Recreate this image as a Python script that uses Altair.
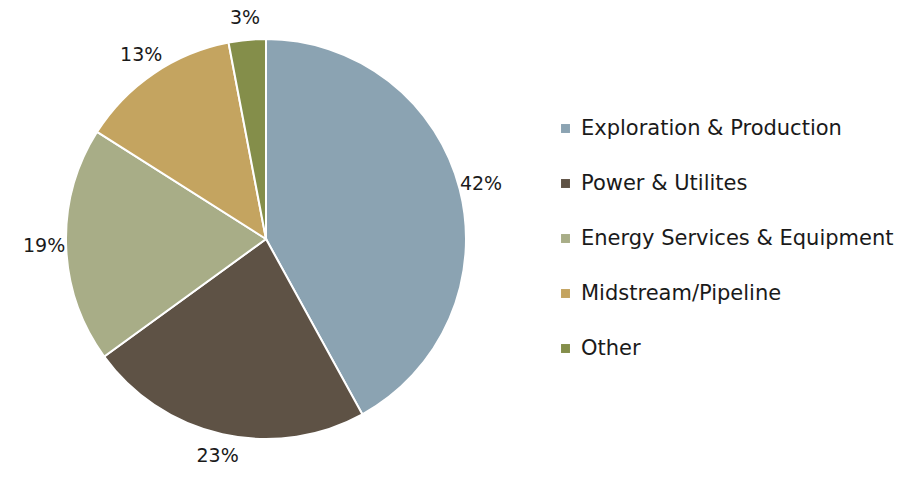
import altair as alt
import pandas as pd

categories = ["Exploration & Production", "Power & Utilites", "Energy Services & Equipment",
              "Midstream/Pipeline", "Other"]
shares = [42, 23, 19, 13, 3]
colors = ["#8BA3B2", "#5E5245", "#A8AD87", "#C4A460", "#848E4A"]

df = pd.DataFrame({"category": categories, "share": shares, "order": list(range(len(categories)))})
df["label"] = df["share"].astype(str) + "%"

base = alt.Chart(df).encode(
    theta=alt.Theta("share:Q", stack=True),
    order=alt.Order("order:Q"),
)

pie = base.mark_arc(stroke="white", strokeWidth=2, x=258, y=231, outerRadius=200).encode(
    color=alt.Color(
        "category:N",
        sort=categories,
        scale=alt.Scale(domain=categories, range=colors),
        legend=alt.Legend(
            title=None,
            orient="none",
            legendX=547,
            legendY=110,
            symbolType="square",
            symbolSize=80,
            symbolStrokeWidth=0,
            labelFont="DejaVu Sans",
            labelFontSize=21,
            labelColor="#1a1a1a",
            rowPadding=33,
            labelLimit=500,
            labelOffset=5,
        ),
    )
)

labels = base.mark_text(radius=222, x=258, y=231, font="DejaVu Sans", fontSize=19,
                        baseline="middle", color="#1a1a1a").encode(text="label:N")

chart = (pie + labels).properties(
    width=888, height=468, autosize=alt.AutoSizeParams(type="none"), padding=0
).configure_view(stroke=None)

chart.save("out.html", embed_options={"renderer": "svg", "actions": False})
